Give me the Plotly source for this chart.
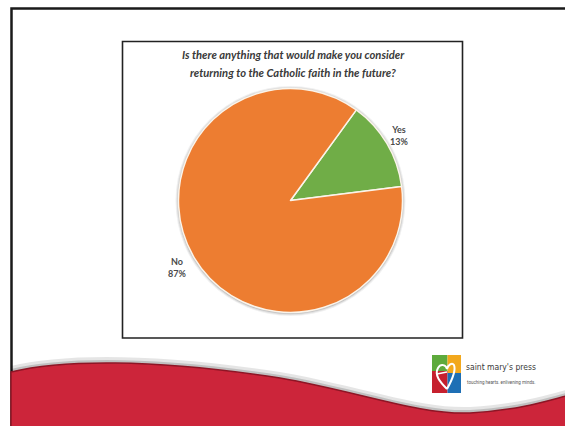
import plotly.graph_objects as go

OFF = 0
W, H = 565, 426

categories = ["Yes", "No"]
values = [13, 87]
colors = ["#70AD47", "#ED7D31"]
title_lines = ["Is there anything that would make you consider",
               "returning to the Catholic faith in the future?"]
label_pos = {"Yes": (399, 136), "No": (177, 267)}


def px(x):
    return (x - OFF) / W


def py(y):
    return 1 - (y - OFF) / H


def P(x, y):
    return f"{px(x):.5f},{py(y):.5f}"


cx, cy, r = 290.5, 200.5, 112

fig = go.Figure()
fig.add_trace(go.Pie(
    labels=categories, values=values, sort=False, direction="clockwise",
    rotation=36, textinfo="none", hoverinfo="label+percent",
    marker=dict(colors=colors, line=dict(color="#FBF4EA", width=1.5)),
    domain=dict(x=[px(cx - r), px(cx + r)], y=[py(cy + r), py(cy - r)]),
    showlegend=False,
))

shapes = []
# outer slide frame (top and left edges)
shapes.append(dict(type="path", xref="paper", yref="paper",
                   path="M " + P(11.5, 430) + " L " + P(11.5, 8.5) + " L " + P(570, 8.5),
                   line=dict(color="#1a1a1a", width=2.5), layer="below"))
# chart frame
shapes.append(dict(type="rect", xref="paper", yref="paper",
                   x0=px(122.5), x1=px(462.5), y0=py(338), y1=py(41.5),
                   line=dict(color="#222222", width=1.6), fillcolor="white", layer="below"))
# pie shadow
for d, op in [(3, 0.06), (2, 0.08), (1, 0.12)]:
    shapes.append(dict(type="circle", xref="paper", yref="paper",
                       x0=px(cx - r - d), x1=px(cx + r + d), y0=py(cy + r + d + 0.5), y1=py(cy - r - d + 0.5),
                       line=dict(width=0), fillcolor=f"rgba(0,0,0,{op})", layer="below"))


def wave_path(dy):
    return ("M " + P(11, 372 + dy) + " C " + P(60, 360 + dy) + " " + P(150, 358 + dy) + " " + P(280, 378 + dy) +
            " C " + P(360, 392 + dy) + " " + P(420, 415 + dy) + " " + P(470, 413 + dy) +
            " C " + P(520, 410 + dy) + " " + P(550, 400 + dy) + " " + P(566, 396 + dy) +
            " L " + P(566, 427) + " L " + P(11, 427) + " Z")


shapes.append(dict(type="path", xref="paper", yref="paper", path=wave_path(-6),
                   fillcolor="rgba(0,0,0,0.10)", line=dict(width=0)))
shapes.append(dict(type="path", xref="paper", yref="paper", path=wave_path(-3),
                   fillcolor="rgba(0,0,0,0.16)", line=dict(width=0)))
shapes.append(dict(type="path", xref="paper", yref="paper", path=wave_path(0),
                   fillcolor="#CC253A", line=dict(color="#8E1525", width=1.5)))

# logo blocks
for (x0, y0, x1, y1, c) in [(432, 355, 447.5, 371, "#5DAA3C"), (447.5, 355, 461, 373, "#F2A81D"),
                             (432, 371, 447.5, 393, "#C6202E"), (447.5, 373, 461, 393, "#1E6FB5")]:
    shapes.append(dict(type="rect", xref="paper", yref="paper",
                       x0=px(x0), x1=px(x1), y0=py(y1), y1=py(y0),
                       line=dict(width=0), fillcolor=c))
heart = ("M " + P(447, 389) + " C " + P(440, 382) + " " + P(434, 375) + " " + P(438, 368) +
         " C " + P(441, 363) + " " + P(446, 365) + " " + P(447, 369) +
         " C " + P(448, 365) + " " + P(452, 362) + " " + P(454, 365) +
         " C " + P(456, 370) + " " + P(452, 380) + " " + P(447, 389))
shapes.append(dict(type="path", xref="paper", yref="paper", path=heart,
                   line=dict(color="white", width=2)))
shapes.append(dict(type="path", xref="paper", yref="paper",
                   path="M " + P(437, 374) + " L " + P(447, 372),
                   line=dict(color="white", width=1.5)))

annotations = []
for i, line in enumerate(title_lines):
    annotations.append(dict(x=px(293), y=py(55 + 17 * i), xref="paper", yref="paper",
                            text=f"<b><i>{line}</i></b>", showarrow=False,
                            xanchor="center", yanchor="middle",
                            font=dict(family="Lato", size=11.2, color="#3a3a3a")))
total = sum(values)
for cat, v in zip(categories, values):
    x, y = label_pos[cat]
    annotations.append(dict(x=px(x), y=py(y), xref="paper", yref="paper",
                            text=f"<b>{cat}<br>{round(100 * v / total)}%</b>", showarrow=False,
                            xanchor="center", yanchor="middle",
                            font=dict(family="Lato", size=9, color="#4a4a4a")))
annotations.append(dict(x=px(464), y=py(367), xref="paper", yref="paper",
                        text="saint mary's press", showarrow=False, xanchor="left", yanchor="middle",
                        font=dict(family="DejaVu Sans Condensed, Liberation Sans Narrow, Roboto", size=8.5,
                                  color="#3a3a3a")))
annotations.append(dict(x=px(465), y=py(382), xref="paper", yref="paper",
                        text="touching hearts. enlivening minds.", showarrow=False, xanchor="left", yanchor="middle",
                        font=dict(family="Liberation Sans Narrow, Roboto", size=4.5, color="#555555")))

fig.update_layout(
    width=W, height=H, margin=dict(l=0, r=0, t=0, b=0),
    paper_bgcolor="white", plot_bgcolor="white",
    shapes=shapes, annotations=annotations, showlegend=False,
)
fig.write_html("out.html", config={"displayModeBar": False},
               post_script="document.body.style.margin='0';document.body.style.overflow='hidden';")
